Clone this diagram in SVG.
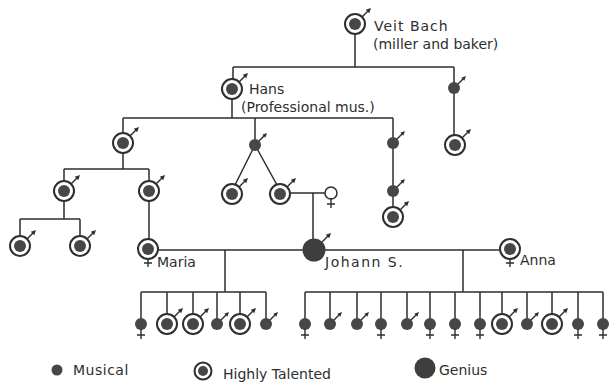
<svg xmlns="http://www.w3.org/2000/svg" xmlns:xlink="http://www.w3.org/1999/xlink" width="611" height="383" viewBox="0 0 611 383">
<style>
.ln{stroke:#2e2e2e;stroke-width:1.5;fill:none}
.ring{fill:#fff;stroke:#2e2e2e;stroke-width:2}
.core{fill:#474747}
.dot{fill:#474747}
.gen{fill:#3e3e3e}
.open{fill:#fff;stroke:#2e2e2e;stroke-width:1.5}
.sym{stroke:#2e2e2e;stroke-width:1.4;fill:none}
.head{fill:#2e2e2e}
text{font-family:"DejaVu Sans","Liberation Sans",sans-serif;fill:#2e2e2e;font-size:14px}
</style>
<defs>
<g id="ht"><circle r="10" class="ring"/><circle r="6" class="core"/></g>
<g id="mu"><circle r="6" class="dot"/></g>
<g id="ge"><circle r="11.5" class="gen"/></g>
<g id="mH"><line x1="7" y1="-7" x2="13" y2="-13" class="sym"/><polygon points="16,-16 10.8,-14.2 14.2,-10.8" class="head"/></g>
<g id="mS"><line x1="4" y1="-4" x2="9" y2="-9" class="sym"/><polygon points="12,-12 7.3,-10.3 10.3,-7.3" class="head"/></g>
<g id="mG"><line x1="8" y1="-8" x2="14" y2="-14" class="sym"/><polygon points="17,-17 11.8,-15.2 15.2,-11.8" class="head"/></g>
<g id="fS"><path d="M0 5V15M-4 11H4" class="sym"/></g>
<g id="fH"><path d="M0 10V18M-4 14H4" class="sym"/></g>
</defs>
<rect width="611" height="383" fill="#fff"/>
<g id="connectors" class="ln">
<path d="M355 34V67M233 67H454M233 67V79M454 67V140"/>
<path d="M232 99V118M123 118H393M123 118V133M255 118V139M393 118V207"/>
<path d="M255 145L235 185M255 145L277 185"/>
<path d="M123 153V169M64 169H149M64 169V181M149 169V239"/>
<path d="M64 201V219M20 219H80M20 219V236M80 219V236"/>
<path d="M290 193H325M313 193V239"/>
<path d="M148 250H500"/>
<path d="M225 250V292M141 292H266M141 292V324M167 292V324M193 292V324M217 292V324M240 292V324M266 292V324"/>
<path d="M463 250V292M305 292H603M305 292V324M330 292V324M357 292V324M381 292V324M407 292V324M430 292V324M455 292V324M480 292V324M502 292V324M527 292V324M552 292V324M578 292V324M603 292V324"/>
</g>
<g id="veit"><use href="#ht" x="355" y="24"/><use href="#mH" x="355" y="24"/><text x="374" y="31" font-size="15" letter-spacing="1">Veit Bach</text><text x="373" y="49">(miller and baker)</text></g>
<g id="hans"><use href="#ht" x="232" y="89"/><use href="#mH" x="232" y="89"/><text x="249" y="94" font-size="15">Hans</text><text x="241" y="112">(Professional mus.)</text></g>
<g id="n454a"><use href="#mu" x="454" y="88"/><use href="#mS" x="454" y="88"/></g>
<g id="n454b"><use href="#ht" x="455" y="145"/><use href="#mH" x="455" y="145"/></g>
<g id="n123"><use href="#ht" x="123" y="143"/><use href="#mH" x="123" y="143"/></g>
<g id="n64"><use href="#ht" x="64" y="191"/><use href="#mH" x="64" y="191"/></g>
<g id="n149"><use href="#ht" x="149" y="191"/><use href="#mH" x="149" y="191"/></g>
<g id="n20"><use href="#ht" x="20" y="246"/><use href="#mH" x="20" y="246"/></g>
<g id="n80"><use href="#ht" x="80" y="246"/><use href="#mH" x="80" y="246"/></g>
<g id="maria"><use href="#ht" x="148" y="249"/><use href="#fH" x="148" y="249"/><text x="157" y="267" font-size="15">Maria</text></g>
<g id="n255"><use href="#mu" x="255" y="145"/><use href="#mS" x="255" y="145"/></g>
<g id="n232"><use href="#ht" x="232" y="194"/><use href="#mH" x="232" y="194"/></g>
<g id="n280"><use href="#ht" x="280" y="194"/><use href="#mH" x="280" y="194"/></g>
<g id="mother"><circle cx="331" cy="193" r="6" class="open"/><use href="#fS" x="331" y="193"/></g>
<g id="n393a"><use href="#mu" x="393" y="143"/><use href="#mS" x="393" y="143"/></g>
<g id="n393b"><use href="#mu" x="393" y="191"/><use href="#mS" x="393" y="191"/></g>
<g id="n393c"><use href="#ht" x="393" y="217"/><use href="#mH" x="393" y="217"/></g>
<g id="johann"><use href="#ge" x="314" y="250"/><use href="#mG" x="314" y="250"/><text x="325" y="267" font-size="15" letter-spacing="1.5">Johann S.</text></g>
<g id="anna"><use href="#ht" x="510" y="249"/><use href="#fH" x="510" y="249"/><text x="520" y="265" font-size="15">Anna</text></g>
<g id="c1"><use href="#mu" x="141" y="324"/><use href="#fS" x="141" y="324"/></g>
<g id="c2"><use href="#ht" x="167" y="324"/><use href="#mH" x="167" y="324"/></g>
<g id="c3"><use href="#ht" x="193" y="324"/><use href="#mH" x="193" y="324"/></g>
<g id="c4"><use href="#mu" x="217" y="324"/><use href="#mS" x="217" y="324"/></g>
<g id="c5"><use href="#ht" x="240" y="324"/><use href="#mH" x="240" y="324"/></g>
<g id="c6"><use href="#mu" x="266" y="324"/><use href="#mS" x="266" y="324"/></g>
<g id="c7"><use href="#mu" x="305" y="324"/><use href="#fS" x="305" y="324"/></g>
<g id="c8"><use href="#mu" x="330" y="324"/><use href="#mS" x="330" y="324"/></g>
<g id="c9"><use href="#mu" x="357" y="324"/><use href="#mS" x="357" y="324"/></g>
<g id="c10"><use href="#mu" x="381" y="324"/><use href="#fS" x="381" y="324"/></g>
<g id="c11"><use href="#mu" x="407" y="324"/><use href="#mS" x="407" y="324"/></g>
<g id="c12"><use href="#mu" x="430" y="324"/><use href="#fS" x="430" y="324"/></g>
<g id="c13"><use href="#mu" x="455" y="324"/><use href="#fS" x="455" y="324"/></g>
<g id="c14"><use href="#mu" x="480" y="324"/><use href="#fS" x="480" y="324"/></g>
<g id="c15"><use href="#ht" x="502" y="324"/><use href="#mH" x="502" y="324"/></g>
<g id="c16"><use href="#mu" x="527" y="324"/><use href="#mS" x="527" y="324"/></g>
<g id="c17"><use href="#ht" x="552" y="324"/><use href="#mH" x="552" y="324"/></g>
<g id="c18"><use href="#mu" x="578" y="324"/><use href="#fS" x="578" y="324"/></g>
<g id="c19"><use href="#mu" x="603" y="324"/><use href="#fS" x="603" y="324"/></g>
<g id="legend">
<circle cx="57" cy="370" r="5.5" class="dot"/><text x="73" y="375" letter-spacing="0.5">Musical</text>
<circle cx="203" cy="371" r="8.5" class="ring"/><circle cx="203" cy="371" r="5" class="core"/><text x="223" y="379">Highly Talented</text>
<circle cx="425" cy="368" r="10.5" class="gen"/><text x="439" y="375">Genius</text>
</g>
</svg>
